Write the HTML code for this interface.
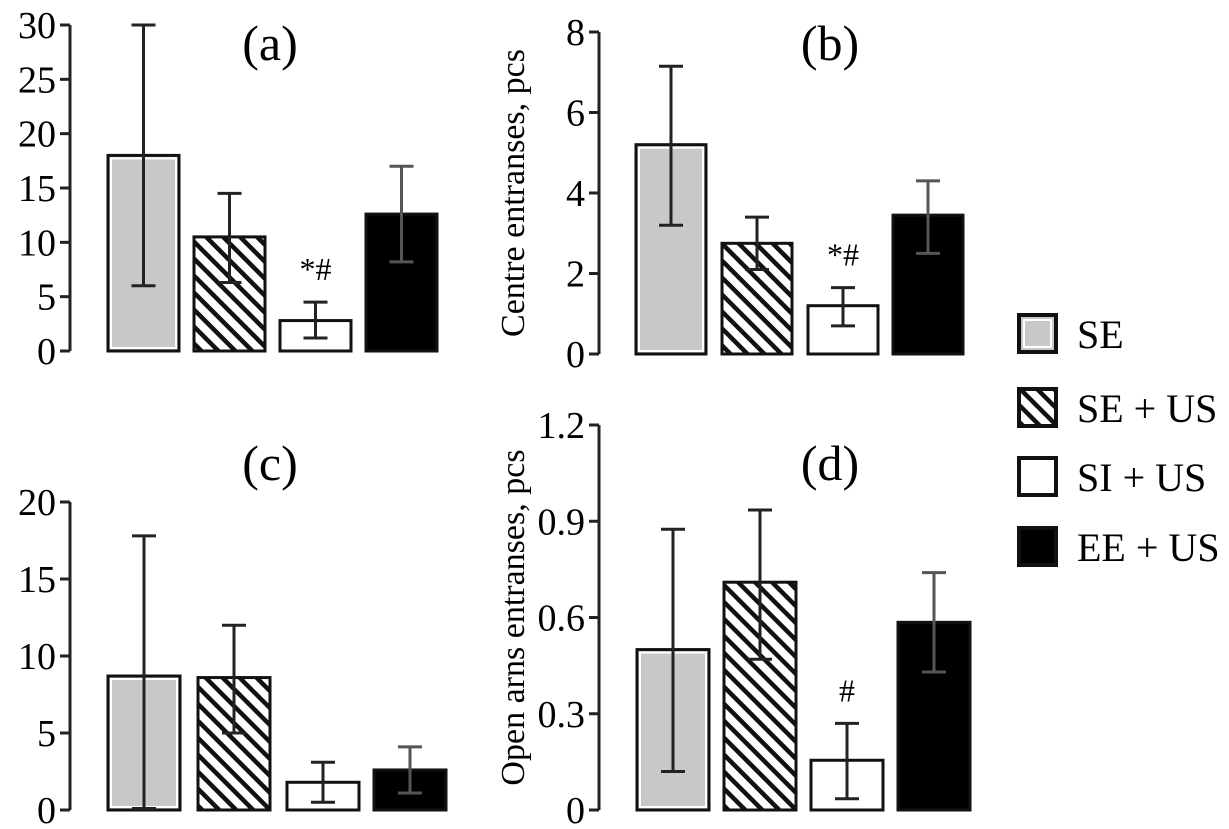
<!DOCTYPE html>
<html><head><meta charset="utf-8"><style>
body{margin:0;background:#fff}
svg{display:block;font-family:"Liberation Serif",serif}
</style></head><body>
<svg id="c" width="1229" height="829" viewBox="0 0 1229 829">
<defs>
<pattern id="hatch" patternUnits="userSpaceOnUse" width="12" height="12" patternTransform="rotate(-45)">
<rect width="12" height="12" fill="#fff"/><rect width="4.5" height="12" fill="#111"/>
</pattern>
</defs>
</svg>
<script>
const groups=["SE","SE + US","SI + US","EE + US"];
const aVals=[18,10.5,2.8,12.6], aLo=[6,6.3,1.2,8.2], aHi=[30,14.5,4.5,17];
const bVals=[5.2,2.75,1.2,3.45], bLo=[3.2,2.1,0.7,2.5], bHi=[7.15,3.4,1.65,4.3];
const cVals=[8.7,8.6,1.8,2.6], cLo=[0.1,5,0.5,1.1], cHi=[17.8,12,3.1,4.1];
const dVals=[0.5,0.71,0.155,0.585], dLo=[0.12,0.47,0.035,0.43], dHi=[0.875,0.935,0.27,0.74];
const aTicks=[0,5,10,15,20,25,30], bTicks=[0,2,4,6,8], cTicks=[0,5,10,15,20], dTicks=["0","0.3","0.6","0.9","1.2"];
const svg=document.getElementById('c');
const NS="http://www.w3.org/2000/svg";
function mk(tag,attrs,parent){const e=document.createElementNS(NS,tag);for(const k in attrs)e.setAttribute(k,attrs[k]);(parent||svg).appendChild(e);return e;}
const fills=["#c8c8c8","url(#hatch)","#fff","#000"];
function panel(id,ax,y0,y1,max,ticks,vals,lo,hi,barX,barW,title,tx,ty,ylabel,marks){
  const g=mk('g',{});
  
  
  const Y=v=>y0-(v/max)*(y0-y1);
  const axis=mk('line',{x1:ax,y1:Y(max),x2:ax,y2:y0,stroke:'#222','stroke-width':3},g);
  
  
  ticks.forEach(t=>{const v=parseFloat(t);
    mk('line',{x1:ax-10,y1:Y(v),x2:ax,y2:Y(v),stroke:'#222','stroke-width':3},g);
    const tl=mk('text',{x:ax-14,y:Y(v)+13,'text-anchor':'end','font-size':38},g);tl.textContent=t;
    
    
  });
  vals.forEach((v,i)=>{
    const x=barX[i];
    const r=mk('rect',{x:x,y:Y(v),width:barW,height:y0-Y(v),fill:fills[i],stroke:'#111','stroke-width':3},g);
    
    
    if(i===0) mk('rect',{x:x+3,y:Y(v)+3,width:barW-6,height:y0-Y(v)-6,fill:'none',stroke:'#fff','stroke-width':2},g);
    const cx=x+barW/2, col=i===3?'#555':'#222';
    const e=mk('g',{stroke:col,'stroke-width':3},g);
    
    
    mk('line',{x1:cx,y1:Y(hi[i]),x2:cx,y2:Y(lo[i])},e);
    mk('line',{x1:cx-12,y1:Y(hi[i]),x2:cx+12,y2:Y(hi[i])},e);
    mk('line',{x1:cx-12,y1:Y(lo[i]),x2:cx+12,y2:Y(lo[i])},e);
  });
  const t=mk('text',{x:tx,y:ty,'text-anchor':'middle','font-size':50},g);t.textContent=title;
  
  
  if(ylabel){const yl=mk('text',{x:0,y:0,'text-anchor':'middle','font-size':34,transform:`translate(${ax-75},${(y0+Y(max))/2}) rotate(-90)`},g);yl.textContent=ylabel;
    
    }
  if(marks){const m=mk('text',{x:barX[2]+barW/2,y:Y(hi[2])-22,'text-anchor':'middle','font-size':32},g);m.textContent=marks;
    
    }
}
panel('a',70,351,25,30,aTicks,aVals,aLo,aHi,[108,194,280,366],71,'(a)',270,60,null,'*#');
panel('b',599,354,32,8,bTicks,bVals,bLo,bHi,[636,722,808,893],70,'(b)',830,60,'Centre entranses, pcs','*#');
panel('c',70,810,502,20,cTicks,cVals,cLo,cHi,[108,198,287,374],72,'(c)',270,480,null,null);
panel('d',599,810,425,1.2,dTicks,dVals,dLo,dHi,[637,724,811,898],72,'(d)',830,480,'Open arns entranses, pcs','#');
const ly=[314,388,457,527];
groups.forEach((gname,i)=>{
  const g=mk('g',{});
  
  
  mk('rect',{x:1019,y:ly[i]+1,width:37,height:37,fill:fills[i],stroke:'#111','stroke-width':4},g);
  if(i===0) mk('rect',{x:1024,y:ly[i]+6,width:27,height:27,fill:'none',stroke:'#fff','stroke-width':2},g);
  const t=mk('text',{x:1077,y:ly[i]+34,'font-size':40},g);t.textContent=gname;
});
</script>
</body></html>
